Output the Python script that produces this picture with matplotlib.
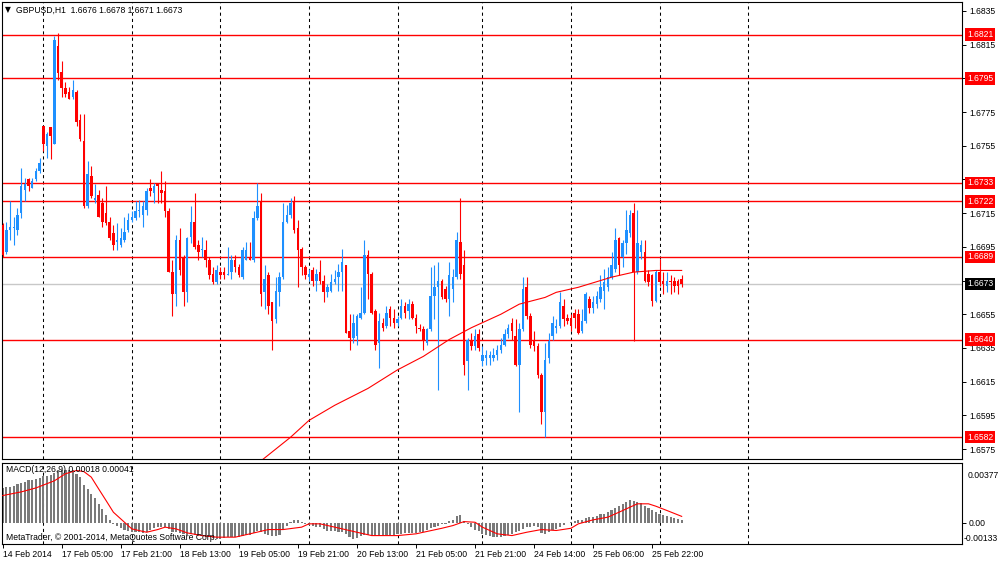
import numpy as np
import matplotlib
matplotlib.use("Agg")
import matplotlib.pyplot as plt
from matplotlib.transforms import blended_transform_factory

# ---------------- data ----------------
opens = [1.6708, 1.6692, 1.6705, 1.6706, 1.6705, 1.6715, 1.6729, 1.6735, 1.6730, 1.6735,
         1.6740, 1.6767, 1.6755, 1.6766, 1.6756, 1.6814, 1.6799, 1.6789, 1.6787, 1.6784,
         1.6787, 1.6770, 1.6758, 1.6719, 1.6737, 1.6723, 1.6726, 1.6721, 1.6715, 1.6710,
         1.6703, 1.6698, 1.6696, 1.6699, 1.6705, 1.6711, 1.6712, 1.6716, 1.6714, 1.6717,
         1.6730, 1.6727, 1.6732, 1.6729, 1.6728, 1.6716, 1.6680, 1.6667, 1.6699, 1.6689,
         1.6668, 1.6701, 1.6710, 1.6696, 1.6693, 1.6693, 1.6687, 1.6679, 1.6674, 1.6680,
         1.6680, 1.6678, 1.6680, 1.6687, 1.6683, 1.6677, 1.6687, 1.6689, 1.6687, 1.6712,
         1.6722, 1.6668, 1.6678, 1.6662, 1.6652, 1.6668, 1.6677, 1.6710, 1.6714, 1.6722,
         1.6706, 1.6694, 1.6683, 1.6677, 1.6681, 1.6675, 1.6680, 1.6675, 1.6668, 1.6669,
         1.6674, 1.6677, 1.6680, 1.6684, 1.6645, 1.6641, 1.6642, 1.6653, 1.6656, 1.6690,
         1.6679, 1.6657, 1.6638, 1.6650, 1.6648, 1.6658, 1.6653, 1.6650, 1.6653, 1.6660,
         1.6657, 1.6661, 1.6653, 1.6647, 1.6646, 1.6638, 1.6646, 1.6666, 1.6671, 1.6675,
         1.6670, 1.6664, 1.6670, 1.6677, 1.6698, 1.6684, 1.6627, 1.6639, 1.6636, 1.6643,
         1.6627, 1.6629, 1.6629, 1.6629, 1.6631, 1.6634, 1.6637, 1.6643, 1.6650, 1.6642,
         1.6625, 1.6646, 1.6671, 1.6654, 1.6639, 1.6636, 1.6619, 1.6597, 1.6629, 1.6642,
         1.6647, 1.6648, 1.6660, 1.6653, 1.6653, 1.6656, 1.6655, 1.6645, 1.6651, 1.6664,
         1.6659, 1.6661, 1.6664, 1.6669, 1.6671, 1.6677, 1.6682, 1.6700, 1.6689, 1.6697,
         1.6703, 1.6715, 1.6680, 1.6692, 1.6692, 1.6679, 1.6678, 1.6663, 1.6680, 1.6675,
         1.6672, 1.6675, 1.6675, 1.6675, 1.6676]
highs = [1.6709, 1.6710, 1.6722, 1.6713, 1.6718, 1.6742, 1.6736, 1.6736, 1.6736, 1.6742,
         1.6748, 1.6767, 1.6763, 1.6766, 1.6820, 1.6822, 1.6805, 1.6793, 1.6790, 1.6794,
         1.6788, 1.6774, 1.6774, 1.6746, 1.6743, 1.6732, 1.6729, 1.6724, 1.6731, 1.6713,
         1.6708, 1.6709, 1.6706, 1.6713, 1.6715, 1.6716, 1.6722, 1.6723, 1.6722, 1.6730,
         1.6735, 1.6733, 1.6733, 1.6740, 1.6734, 1.6718, 1.6687, 1.6702, 1.6706, 1.6690,
         1.6701, 1.6719, 1.6727, 1.6699, 1.6701, 1.6699, 1.6689, 1.6683, 1.6684, 1.6683,
         1.6683, 1.6695, 1.6690, 1.6690, 1.6685, 1.6695, 1.6698, 1.6698, 1.6716, 1.6733,
         1.6727, 1.6684, 1.6680, 1.6662, 1.6677, 1.6680, 1.6721, 1.6720, 1.6724, 1.6725,
         1.6711, 1.6695, 1.6684, 1.6682, 1.6683, 1.6682, 1.6687, 1.6678, 1.6673, 1.6679,
         1.6681, 1.6685, 1.6694, 1.6684, 1.6655, 1.6655, 1.6655, 1.6671, 1.6699, 1.6693,
         1.6680, 1.6658, 1.6656, 1.6653, 1.6660, 1.6660, 1.6658, 1.6654, 1.6664, 1.6662,
         1.6664, 1.6663, 1.6655, 1.6649, 1.6648, 1.6647, 1.6683, 1.6684, 1.6686, 1.6676,
         1.6672, 1.6686, 1.6682, 1.6704, 1.6724, 1.6693, 1.6641, 1.6644, 1.6646, 1.6646,
         1.6636, 1.6634, 1.6633, 1.6635, 1.6637, 1.6641, 1.6646, 1.6649, 1.6653, 1.6652,
         1.6650, 1.6677, 1.6677, 1.6656, 1.6645, 1.6638, 1.6620, 1.6638, 1.6644, 1.6654,
         1.6652, 1.6668, 1.6664, 1.6655, 1.6655, 1.6658, 1.6658, 1.6658, 1.6668, 1.6666,
         1.6666, 1.6669, 1.6678, 1.6682, 1.6683, 1.6692, 1.6706, 1.6701, 1.6699, 1.6717,
         1.6717, 1.6721, 1.6717, 1.6699, 1.6699, 1.6681, 1.6679, 1.6681, 1.6688, 1.6680,
         1.6680, 1.6678, 1.6677, 1.6676, 1.6678]
lows = [1.6689, 1.6691, 1.6699, 1.6696, 1.6702, 1.6712, 1.6722, 1.6728, 1.6730, 1.6734,
        1.6739, 1.6752, 1.6748, 1.6747, 1.6756, 1.6794, 1.6784, 1.6784, 1.6783, 1.6783,
        1.6767, 1.6758, 1.6718, 1.6718, 1.6724, 1.6721, 1.6713, 1.6707, 1.6708, 1.6699,
        1.6693, 1.6693, 1.6695, 1.6698, 1.6704, 1.6710, 1.6711, 1.6713, 1.6707, 1.6714,
        1.6725, 1.6721, 1.6721, 1.6721, 1.6713, 1.6680, 1.6654, 1.6660, 1.6678, 1.6660,
        1.6662, 1.6697, 1.6694, 1.6687, 1.6689, 1.6683, 1.6676, 1.6673, 1.6673, 1.6676,
        1.6676, 1.6678, 1.6676, 1.6680, 1.6677, 1.6676, 1.6687, 1.6687, 1.6686, 1.6711,
        1.6660, 1.6658, 1.6655, 1.6634, 1.6650, 1.6660, 1.6676, 1.6709, 1.6712, 1.6703,
        1.6671, 1.6678, 1.6676, 1.6675, 1.6672, 1.6669, 1.6673, 1.6662, 1.6665, 1.6668,
        1.6673, 1.6669, 1.6669, 1.6644, 1.6634, 1.6638, 1.6637, 1.6652, 1.6655, 1.6664,
        1.6655, 1.6634, 1.6623, 1.6645, 1.6647, 1.6648, 1.6647, 1.6648, 1.6652, 1.6653,
        1.6652, 1.6652, 1.6644, 1.6645, 1.6634, 1.6637, 1.6645, 1.6652, 1.6610, 1.6664,
        1.6662, 1.6654, 1.6662, 1.6676, 1.6676, 1.6619, 1.6610, 1.6634, 1.6634, 1.6633,
        1.6624, 1.6625, 1.6625, 1.6627, 1.6628, 1.6632, 1.6636, 1.6641, 1.6640, 1.6624,
        1.6597, 1.6645, 1.6652, 1.6635, 1.6633, 1.6617, 1.6590, 1.6582, 1.6626, 1.6640,
        1.6644, 1.6647, 1.6648, 1.6649, 1.6645, 1.6647, 1.6643, 1.6644, 1.6650, 1.6656,
        1.6656, 1.6659, 1.6662, 1.6658, 1.6669, 1.6676, 1.6680, 1.6678, 1.6683, 1.6691,
        1.6701, 1.6639, 1.6679, 1.6688, 1.6674, 1.6672, 1.6660, 1.6662, 1.6672, 1.6667,
        1.6668, 1.6667, 1.6668, 1.6667, 1.6671]
closes = [1.6690, 1.6705, 1.6707, 1.6707, 1.6714, 1.6731, 1.6732, 1.6731, 1.6734, 1.6740,
          1.6745, 1.6756, 1.6762, 1.6761, 1.6818, 1.6798, 1.6789, 1.6786, 1.6783, 1.6788,
          1.6769, 1.6759, 1.6719, 1.6738, 1.6725, 1.6724, 1.6713, 1.6710, 1.6709, 1.6700,
          1.6696, 1.6699, 1.6700, 1.6704, 1.6711, 1.6713, 1.6716, 1.6717, 1.6719, 1.6728,
          1.6728, 1.6731, 1.6731, 1.6727, 1.6716, 1.6680, 1.6667, 1.6699, 1.6681, 1.6668,
          1.6700, 1.6710, 1.6695, 1.6692, 1.6694, 1.6687, 1.6678, 1.6674, 1.6681, 1.6678,
          1.6678, 1.6679, 1.6687, 1.6683, 1.6678, 1.6693, 1.6693, 1.6687, 1.6712, 1.6719,
          1.6667, 1.6676, 1.6660, 1.6651, 1.6669, 1.6677, 1.6710, 1.6714, 1.6721, 1.6705,
          1.6693, 1.6683, 1.6678, 1.6679, 1.6675, 1.6679, 1.6675, 1.6668, 1.6671, 1.6674,
          1.6676, 1.6680, 1.6686, 1.6644, 1.6641, 1.6650, 1.6654, 1.6656, 1.6690, 1.6679,
          1.6656, 1.6637, 1.6651, 1.6647, 1.6656, 1.6653, 1.6650, 1.6652, 1.6660, 1.6656,
          1.6661, 1.6653, 1.6648, 1.6646, 1.6640, 1.6646, 1.6666, 1.6671, 1.6675, 1.6665,
          1.6664, 1.6678, 1.6677, 1.6699, 1.6679, 1.6625, 1.6640, 1.6636, 1.6642, 1.6635,
          1.6631, 1.6631, 1.6631, 1.6631, 1.6634, 1.6637, 1.6643, 1.6647, 1.6645, 1.6625,
          1.6646, 1.6670, 1.6654, 1.6637, 1.6636, 1.6619, 1.6597, 1.6628, 1.6639, 1.6650,
          1.6648, 1.6662, 1.6652, 1.6651, 1.6648, 1.6653, 1.6644, 1.6651, 1.6667, 1.6659,
          1.6662, 1.6666, 1.6671, 1.6674, 1.6677, 1.6684, 1.6699, 1.6684, 1.6697, 1.6705,
          1.6714, 1.6680, 1.6697, 1.6696, 1.6675, 1.6674, 1.6663, 1.6680, 1.6674, 1.6673,
          1.6675, 1.6674, 1.6672, 1.6672, 1.6673]

# moving average (red line), read at selected bars
ma_idx = [68, 70, 74, 78, 83, 90, 99, 107, 114, 121, 127, 135, 140, 147, 150, 156,
          162, 165, 171, 177, 184]
ma_val = [1.6564, 1.6568, 1.6575, 1.6582, 1.6592, 1.6601, 1.6611, 1.6622, 1.6630, 1.6640,
          1.6647, 1.6655, 1.6661, 1.6665, 1.6668, 1.6671, 1.6675, 1.6677, 1.6680, 1.6681,
          1.6681]

# MACD histogram (units of 1e-5), one per bar
macd_hist = [218, 225, 229, 235, 242, 252, 260, 267, 273, 277, 281,
             294, 298, 302, 315, 330, 332, 332, 330, 330, 309,
             288, 239, 214, 183, 155, 120, 88, 50, 21, -6,
             -21, -34, -42, -48, -55, -59, -59, -63, -55, -42,
             -34, -27, -23, -23, -38, -55, -59, -63, -71, -74,
             -71, -76, -80, -84, -88, -92, -97, -99, -99, -97,
             -92, -90, -88, -86, -80, -76, -74, -63, -48, -59,
             -69, -76, -84, -80, -74, -42, -17, 4, 21, 15,
             4, -6, -13, -17, -23, -29, -38, -48, -50, -50,
             -55, -55, -69, -90, -101, -97, -84, -76, -76, -80,
             -84, -80, -80, -76, -76, -76, -71, -67, -65, -63,
             -63, -63, -59, -55, -46, -34, -25, -17, -8, -4,
             13, 21, 42, 50, 13, -6, -27, -42, -50, -67,
             -76, -84, -88, -88, -86, -80, -76, -67, -59, -50,
             -38, -27, -25, -21, -25, -63, -71, -59, -46, -38,
             -25, -13, 0, 8, 13, 17, 21, 29, 34, 38,
             46, 55, 59, 67, 78, 92, 105, 118, 134, 145,
             139, 130, 126, 109, 92, 78, 67, 59, 50, 42,
             34, 29, 25, 19]
# MACD signal line (units of 1e-5), read at selected bars
sig_idx = [0, 5, 9, 14, 17, 20, 22, 24, 26, 28, 30, 33, 35, 39, 42, 44, 47, 50, 54, 58,
           63, 67, 72, 76, 81, 83, 86, 90, 96, 100, 107, 112, 119, 122, 125, 128, 130, 134,
           138, 142, 146, 150, 154, 156, 160, 164, 167, 170, 172, 175, 177, 180, 184]
sig_val = [172, 195, 220, 265, 309, 330, 323, 288, 214, 141, 67, 4, -38, -59, -42, -27, -38,
           -63, -80, -90, -90, -69, -42, -42, -27, -6, -6, -27, -59, -80, -80, -69, -34, -17,
           8, 4, -27, -69, -80, -59, -42, -48, -34, -6, 19, 36, 67, 99, 120, 120, 105, 78, 41]

levels = [1.6821, 1.6795, 1.6733, 1.6722, 1.6689, 1.6640, 1.6582]
bid = 1.6673
price_ticks = [1.6835, 1.6815, 1.6795, 1.6775, 1.6755, 1.6735, 1.6715, 1.6695,
               1.6675, 1.6655, 1.6635, 1.6615, 1.6595, 1.6575]
sep_idx = [11, 35, 59, 83, 107, 130, 154, 178, 202]
xtick_idx = [0, 16, 32, 48, 64, 80, 96, 112, 128, 144, 160, 176]
xtick_labels = ["14 Feb 2014", "17 Feb 05:00", "17 Feb 21:00", "18 Feb 13:00",
                "19 Feb 05:00", "19 Feb 21:00", "20 Feb 13:00", "21 Feb 05:00",
                "21 Feb 21:00", "24 Feb 14:00", "25 Feb 06:00", "25 Feb 22:00"]
title_text = "GBPUSD,H1  1.6676 1.6678 1.6671 1.6673"
macd_title = "MACD(12,26,9) 0.00018 0.00041"
macd_max_label, macd_min_label = "0.00377", "-0.00133"
copyright_text = "MetaTrader, \u00a9 2001-2014, MetaQuotes Software Corp."

# ---------------- style ----------------
FONT = "Liberation Sans"
FS = 6.2
UP = "#1e90ff"
DOWN = "#ff0000"
W, H = 1000, 561

fig = plt.figure(figsize=(W / 100, H / 100), dpi=100, facecolor="white")

def px_axes(x0, y0, x1, y1):
    return fig.add_axes([x0 / W, 1 - y1 / H, (x1 - x0) / W, (y1 - y0) / H])

ax = px_axes(2, 2, 962, 459)
ax2 = px_axes(2, 463, 962, 544)

xlim = (-0.19, 259.97)
for a in (ax, ax2):
    a.set_xlim(*xlim)
    a.set_facecolor("white")
    for s in a.spines.values():
        s.set_color("#000000")
        s.set_linewidth(0.8)

ax.set_ylim(1.65691, 1.68403)
ax2.set_ylim(-0.00133, 0.00377)

# separators
for a in (ax, ax2):
    for s in sep_idx:
        a.axvline(s, color="black", lw=0.75, ls=(0, (3, 3)), zorder=1)

# horizontal levels
for lv in levels:
    ax.axhline(lv, color="#ff0000", lw=1.0, zorder=2)
ax.axhline(bid, color="#c8c8c8", lw=1.0, zorder=1.5)

# candles
o = np.array(opens); h = np.array(highs); l = np.array(lows); c = np.array(closes)
idx = np.arange(len(o))
up = c >= o
cols = np.where(up, UP, DOWN)
ax.vlines(idx, l, h, colors=cols, lw=0.8, zorder=3)
body_bottom = np.minimum(o, c)
body_h = np.maximum(np.abs(c - o), 0.00006)
ax.bar(idx, body_h, bottom=body_bottom, width=0.68, color=cols, linewidth=0, zorder=4)

# moving average
ax.plot(ma_idx, ma_val, color="#ff0000", lw=0.8, zorder=5)

# MACD
ax2.bar(np.arange(len(macd_hist)), np.array(macd_hist) * 1e-5, width=0.58,
        color="#7a7a7a", linewidth=0, zorder=2)
ax2.plot(sig_idx, np.array(sig_val) * 1e-5, color="#ff0000", lw=0.8, zorder=3)

# axes ticks
ax.set_xticks([])
ax.yaxis.tick_right()
ax.set_yticks(price_ticks)
ax.set_yticklabels([f"{t:.4f}" for t in price_ticks], fontsize=FS, family=FONT)
ax.tick_params(axis="y", length=3, width=0.7, pad=2, colors="black")

ax2.yaxis.tick_right()
ax2.set_yticks([0.0])
ax2.set_yticklabels(["0.00"], fontsize=FS, family=FONT)
ax2.tick_params(axis="y", length=3, width=0.7, pad=2)
ax2.set_xticks(xtick_idx)
ax2.set_xticklabels(xtick_labels, fontsize=FS, family=FONT)
for lab in ax2.get_xticklabels():
    lab.set_ha("left")
ax2.tick_params(axis="x", length=3, width=0.7, pad=1.5)

# MACD scale labels
ax2.text(1.0 + 6 / 960, 0.84, macd_max_label, transform=ax2.transAxes, fontsize=FS,
         family=FONT, va="center", ha="left")
ax2.text(1.0 + 2 / 960, 0.07, macd_min_label, transform=ax2.transAxes, fontsize=FS,
         family=FONT, va="center", ha="left")

# level boxes
bt = blended_transform_factory(ax.transAxes, ax.transData)
for lv in levels:
    ax.text(1.0 + 5 / 960, lv, f"{lv:.4f}", transform=bt, fontsize=FS, family=FONT,
            color="white", va="center", ha="left", zorder=10, clip_on=False,
            bbox=dict(boxstyle="square,pad=0.2", fc="#ff0000", ec="none"))
ax.text(1.0 + 5 / 960, bid, f"{bid:.4f}", transform=bt, fontsize=FS, family=FONT,
        color="white", va="center", ha="left", zorder=10, clip_on=False,
        bbox=dict(boxstyle="square,pad=0.2", fc="#000000", ec="none"))

# texts
fig.text(5 / W, 1 - 10 / H, "\u25bc", fontsize=5.5, family="DejaVu Sans", va="center", ha="left")
fig.text(16 / W, 1 - 10 / H, title_text, fontsize=FS, family=FONT, va="center", ha="left")
fig.text(6 / W, 1 - 470 / H, macd_title, fontsize=FS, family=FONT, va="center", ha="left")
fig.text(6 / W, 1 - 537 / H, copyright_text, fontsize=FS, family=FONT, va="center", ha="left")

fig.savefig("out.png", dpi=100, facecolor="white")
